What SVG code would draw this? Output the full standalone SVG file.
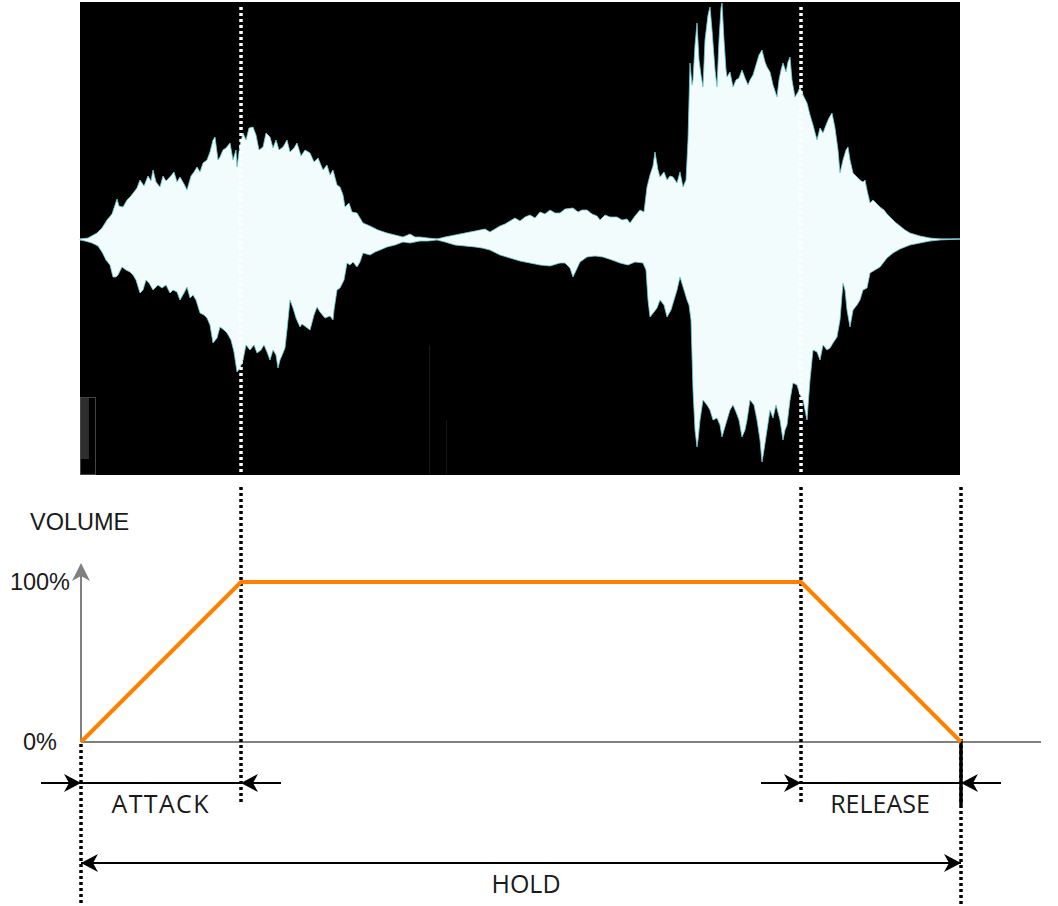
<svg xmlns="http://www.w3.org/2000/svg" width="1058" height="906" viewBox="0 0 1058 906">
<defs>
<style>
.lbl{font-family:"Liberation Sans",Arial,sans-serif;font-size:23.5px;fill:#1a1a1a}
.dim{font-family:"Open Sans","Noto Sans",sans-serif;font-size:25px;fill:#1a1a1a}
.dotb{stroke:#000;stroke-width:3.5;stroke-dasharray:3 3;fill:none}
.dotw{stroke:#fff;stroke-width:3.5;stroke-dasharray:3 3;fill:none}
.blk{stroke:#000;stroke-width:2;fill:none}
.axis{stroke:#808080;stroke-width:2;fill:none}
</style>
<marker id="arr" markerUnits="userSpaceOnUse" markerWidth="20" markerHeight="20" refX="17" refY="9" orient="auto" viewBox="0 0 20 20">
<path d="M0,0 L17,9 L0,18 L5,9 Z" fill="#000"/>
</marker>
</defs>
<rect width="1058" height="906" fill="#fff"/>
<g id="waveform">
<rect x="80" y="2" width="880" height="473" fill="#000"/>
<rect x="80" y="397" width="9" height="62" fill="#2e2e2e"/>
<rect x="80.5" y="397.5" width="15" height="77" fill="none" stroke="#444" stroke-width="1"/>
<line x1="429.5" y1="345" x2="429.5" y2="474" stroke="#1a1a1a" stroke-width="1"/>
<line x1="446.5" y1="420" x2="446.5" y2="474" stroke="#141414" stroke-width="1"/>
<line x1="80" y1="239" x2="960" y2="239" stroke="#9a9a9a" stroke-width="1"/>
<polygon fill="#f2fcfd" stroke="#6fcfd6" stroke-width="0.8" stroke-linejoin="round" points="80,239 88,238 97,233 102,228 107,220 112,214 115,205 117,199 119,206 123,207 127,200 130,197 134,192 137,188 140,180 144,186 148,176 151,181 153,170 156,182 160,187 163,176 166,181 170,177 174,172 177,182 180,177 184,184 187,190 191,176 194,172 197,167 200,172 203,163 207,160 210,152 213,140 215,137 218,160 220,157 223,150 226,148 230,143 233,160 236,150 237,167 240,145 243,133 246,140 249,128 253,127 256,135 259,150 263,147 266,133 270,137 273,148 276,140 279,150 283,147 287,140 290,152 294,148 297,143 301,156 305,150 310,153 314,162 318,158 323,170 327,165 330,175 333,170 337,185 340,187 343,195 345,207 349,203 352,212 357,213 360,218 363,223 370,226 378,230 387,233 395,235 403,237 410,234 415,237 420,237 428,238 437,239 445,237 455,235 465,233 475,231 485,229 490,232 500,226 505,224 510,221 515,218 520,221 525,217 530,215 535,218 540,212 545,214 550,210 555,213 560,213 565,209 573,208 578,212 582,210 587,210 592,214 597,216 600,220 605,215 610,217 617,217 622,220 627,219 630,223 635,216 640,210 644,212 647,187 650,175 653,166 655,152 658,170 660,177 664,172 667,180 670,176 673,177 677,183 680,172 683,187 686,180 688,140 690,63 692,85 693,80 695,45 697,23 699,60 701,75 703,87 705,40 708,15 710,7 712,30 715,70 717,87 719,40 721,8 722,3 724,40 726,70 727,77 730,72 733,87 736,80 739,78 742,70 745,78 748,85 750,80 753,75 756,65 759,55 762,50 765,62 767,67 770,72 773,85 777,97 779,80 781,70 783,63 786,72 788,62 790,57 792,80 795,97 798,92 800,87 803,95 807,103 810,115 813,125 817,140 820,128 823,133 826,125 829,118 832,113 835,128 838,150 840,173 843,160 846,150 848,147 850,160 853,173 856,176 860,180 863,182 865,180 867,190 870,203 873,200 877,204 880,207 884,210 887,214 890,217 895,222 900,226 905,230 910,233 920,236 930,238 940,239 960,239 960,239 940,240 930,241 920,243 910,245 900,249 893,253 887,258 880,267 875,270 870,273 867,288 863,290 860,300 857,305 853,310 850,327 847,310 845,290 843,283 840,320 837,337 833,343 830,348 827,350 823,345 820,360 817,352 813,350 810,380 807,420 803,400 800,395 797,385 793,383 790,400 787,425 785,430 783,440 780,420 776,405 773,418 770,410 767,430 764,450 762,462 760,440 757,420 754,405 750,400 747,420 745,430 742,437 739,420 736,412 733,405 730,410 727,420 724,430 722,437 720,425 717,418 713,420 710,410 707,405 703,400 700,420 698,440 697,447 695,430 693,390 691,320 689,305 687,300 684,290 680,277 677,290 674,300 671,310 667,317 664,305 660,300 657,308 654,312 650,317 648,300 646,270 643,263 635,262 628,265 620,263 612,260 603,257 595,256 587,257 580,262 573,277 570,268 565,263 560,263 550,266 540,265 530,263 520,261 510,258 500,255 490,250 482,248 475,247 465,246 455,245 445,242 437,240 428,241 420,241 410,243 403,242 395,245 387,247 380,250 375,252 370,255 363,253 360,262 357,267 353,262 350,265 347,263 344,280 340,288 337,290 334,310 333,320 330,316 325,318 320,312 317,307 314,315 310,330 306,327 302,324 300,327 296,318 293,308 290,300 287,330 285,348 283,353 280,360 278,368 276,355 273,350 270,360 267,352 264,345 261,350 257,353 254,345 250,350 246,345 243,360 240,368 237,372 234,352 231,340 227,333 224,330 220,327 217,338 213,343 210,325 207,318 204,315 200,313 196,300 193,295 190,298 187,287 184,293 180,300 177,292 173,290 170,293 166,285 162,288 158,285 153,290 149,283 146,280 143,290 140,293 136,280 133,275 130,272 126,270 122,267 118,275 116,277 113,277 110,265 106,260 102,252 98,246 92,243 85,241 80,240"/>
<line class="dotw" x1="241" y1="7" x2="241" y2="475"/>
<line class="dotw" x1="801" y1="7" x2="801" y2="475"/>
</g>
<g id="axes">
<line class="axis" x1="81" y1="742" x2="1041" y2="742"/>
<line class="axis" x1="81" y1="742" x2="81" y2="576"/>
<path d="M81,563 L90,581 L81,576 L72,581 Z" fill="#808080"/>
<text class="lbl" x="30" y="530">VOLUME</text>
<text class="lbl" x="70" y="590" text-anchor="end">100%</text>
<text class="lbl" x="57" y="750" text-anchor="end">0%</text>
</g>
<g id="guides">
<line class="dotb" x1="241" y1="487" x2="241" y2="802"/>
<line class="dotb" x1="801" y1="487" x2="801" y2="802"/>
<line class="dotb" x1="961" y1="487" x2="961" y2="906"/>
<line class="dotb" x1="81" y1="744" x2="81" y2="906"/>
<line x1="961" y1="742" x2="961" y2="805" stroke="#000" stroke-width="3.5"/>
</g>
<g id="envelope">
<polyline points="81,742 241,582 801,582 961,742" fill="none" stroke="#FF8000" stroke-width="4" stroke-linejoin="round"/>
</g>
<g id="connectors">
<line class="blk" x1="41" y1="783" x2="81" y2="783" marker-end="url(#arr)"/>
<line class="blk" x1="281" y1="783" x2="241" y2="783" marker-end="url(#arr)"/>
<line class="blk" x1="81" y1="783" x2="241" y2="783"/>
<line class="blk" x1="761" y1="783" x2="801" y2="783" marker-end="url(#arr)"/>
<line class="blk" x1="1001" y1="783" x2="961" y2="783" marker-end="url(#arr)"/>
<line class="blk" x1="801" y1="783" x2="961" y2="783"/>
<line class="blk" x1="521" y1="863" x2="961" y2="863" marker-end="url(#arr)"/>
<line class="blk" x1="521" y1="863" x2="81" y2="863" marker-end="url(#arr)"/>
</g>
<g id="labels">
<text class="dim" x="160" y="813" text-anchor="middle" textLength="97" lengthAdjust="spacing">ATTACK</text>
<text class="dim" x="880" y="813" text-anchor="middle">RELEASE</text>
<text class="dim" x="526" y="893" text-anchor="middle">HOLD</text>
</g>
</svg>
